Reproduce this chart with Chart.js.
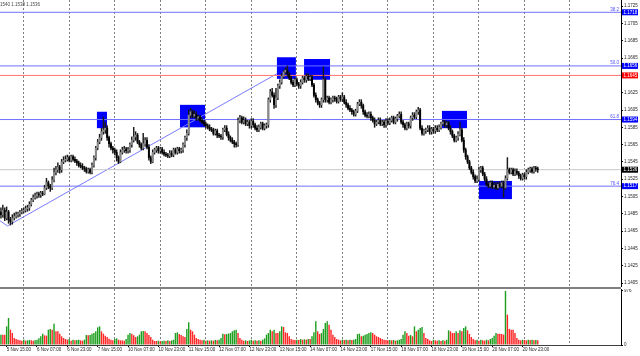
<!DOCTYPE html>
<html>
<head>
<meta charset="utf-8">
<script src="https://cdn.jsdelivr.net/npm/chart.js@4.4.0/dist/chart.umd.min.js"></script>
<style>
  html, body { margin: 0; padding: 0; background: #fff; }
  #wrap { position: relative; width: 640px; height: 356px; overflow: hidden; }
  #price { position: absolute; left: 0; top: 0; }
  #sep { position: absolute; left: 0; top: 287px; width: 621px; height: 2px; background: #808080; }
  #vol { position: absolute; left: 0; top: 289px; }
</style>
</head>
<body>
<div id="wrap">
  <canvas id="price" width="640" height="287"></canvas>
  <div id="sep"></div>
  <canvas id="vol" width="640" height="67"></canvas>
</div>
<script>
// H1 bars (bar 0 = 5 Nov 12:00)
const firstOpen = 1.1487;
const closes = [
  1.1484, 1.1489, 1.1480, 1.1487, 1.1478, 1.1476, 1.1480, 1.1482, 1.1484, 1.1485, 1.1487, 1.1488,
  1.1489, 1.1491, 1.1492, 1.1496, 1.1501, 1.1504, 1.1506, 1.1508, 1.1507, 1.1509, 1.1508, 1.1515,
  1.1521, 1.1517, 1.1515, 1.1524, 1.1533, 1.1536, 1.1539, 1.1536, 1.1545, 1.1547, 1.1548, 1.1550,
  1.1547, 1.1551, 1.1548, 1.1546, 1.1544, 1.1541, 1.1540, 1.1538, 1.1537, 1.1534, 1.1536, 1.1533,
  1.1541, 1.1550, 1.1561, 1.1568, 1.1573, 1.1580, 1.1582, 1.1584, 1.1573, 1.1566, 1.1561, 1.1559,
  1.1556, 1.1550, 1.1545, 1.1556, 1.1559, 1.1560, 1.1558, 1.1559, 1.1565, 1.1570, 1.1574, 1.1576,
  1.1568, 1.1565, 1.1561, 1.1566, 1.1570, 1.1562, 1.1550, 1.1545, 1.1556, 1.1559, 1.1561, 1.1558,
  1.1560, 1.1556, 1.1554, 1.1553, 1.1552, 1.1555, 1.1553, 1.1559, 1.1556, 1.1560, 1.1558, 1.1559,
  1.1565, 1.1573, 1.1578, 1.1599, 1.1603, 1.1598, 1.1600, 1.1596, 1.1597, 1.1593, 1.1591, 1.1589,
  1.1587, 1.1585, 1.1583, 1.1582, 1.1578, 1.1581, 1.1576, 1.1575, 1.1574, 1.1582, 1.1584, 1.1577,
  1.1573, 1.1570, 1.1568, 1.1566, 1.1565, 1.1593, 1.1596, 1.1591, 1.1593, 1.1589, 1.1591, 1.1587,
  1.1592, 1.1588, 1.1584, 1.1582, 1.1585, 1.1589, 1.1584, 1.1587, 1.1588, 1.1617, 1.1626, 1.1622,
  1.1611, 1.1619, 1.1633, 1.1637, 1.1644, 1.1649, 1.1651, 1.1647, 1.1642, 1.1637, 1.1634, 1.1640,
  1.1635, 1.1633, 1.1637, 1.1642, 1.1640, 1.1644, 1.1641, 1.1643, 1.1634, 1.1622, 1.1617, 1.1613,
  1.1611, 1.1617, 1.1640, 1.1617, 1.1619, 1.1614, 1.1617, 1.1619, 1.1618, 1.1615, 1.1620, 1.1618,
  1.1620, 1.1614, 1.1611, 1.1607, 1.1605, 1.1603, 1.1600, 1.1604, 1.1612, 1.1614, 1.1610, 1.1603,
  1.1599, 1.1598, 1.1600, 1.1596, 1.1593, 1.1589, 1.1591, 1.1593, 1.1589, 1.1591, 1.1588, 1.1592,
  1.1590, 1.1593, 1.1596, 1.1591, 1.1595, 1.1598, 1.1600, 1.1591, 1.1588, 1.1584, 1.1589, 1.1587,
  1.1596, 1.1599, 1.1597, 1.1603, 1.1605, 1.1584, 1.1578, 1.1581, 1.1582, 1.1584, 1.1580, 1.1583,
  1.1581, 1.1584, 1.1582, 1.1585, 1.1589, 1.1591, 1.1588, 1.1590, 1.1584, 1.1580, 1.1575, 1.1570,
  1.1573, 1.1577, 1.1582, 1.1570, 1.1559, 1.1551, 1.1545, 1.1538, 1.1533, 1.1528, 1.1523, 1.1525,
  1.1536, 1.1538, 1.1531, 1.1525, 1.1519, 1.1517, 1.1521, 1.1516, 1.1518, 1.1515, 1.1519, 1.1517,
  1.1521, 1.1515, 1.1526, 1.1536, 1.1533, 1.1536, 1.1531, 1.1534, 1.1532, 1.1529, 1.1526, 1.1530,
  1.1528, 1.1533, 1.1536, 1.1537, 1.1534, 1.1538, 1.1537, 1.1536
];
const highs = [
  1.1492, 1.1495, 1.1492, 1.1493, 1.1489, 1.1481, 1.1484, 1.1486, 1.1487, 1.1487, 1.1489, 1.1491,
  1.1492, 1.1494, 1.1495, 1.1499, 1.1503, 1.1507, 1.1509, 1.1510, 1.1510, 1.1511, 1.1511, 1.1518,
  1.1526, 1.1523, 1.1519, 1.1528, 1.1538, 1.1540, 1.1544, 1.1541, 1.1548, 1.1551, 1.1552, 1.1553,
  1.1552, 1.1553, 1.1553, 1.1551, 1.1548, 1.1546, 1.1544, 1.1543, 1.1540, 1.1539, 1.1538, 1.1538,
  1.1544, 1.1552, 1.1563, 1.1571, 1.1577, 1.1584, 1.1597, 1.1591, 1.1587, 1.1575, 1.1568, 1.1563,
  1.1561, 1.1559, 1.1552, 1.1559, 1.1562, 1.1563, 1.1562, 1.1562, 1.1567, 1.1574, 1.1585, 1.1580,
  1.1578, 1.1570, 1.1567, 1.1578, 1.1573, 1.1573, 1.1565, 1.1552, 1.1559, 1.1561, 1.1563, 1.1563,
  1.1562, 1.1562, 1.1559, 1.1556, 1.1555, 1.1558, 1.1558, 1.1561, 1.1561, 1.1562, 1.1562, 1.1561,
  1.1567, 1.1575, 1.1582, 1.1605, 1.1607, 1.1605, 1.1604, 1.1603, 1.1599, 1.1599, 1.1596, 1.1593,
  1.1591, 1.1589, 1.1588, 1.1585, 1.1584, 1.1583, 1.1583, 1.1578, 1.1577, 1.1584, 1.1587, 1.1587,
  1.1580, 1.1575, 1.1573, 1.1570, 1.1568, 1.1596, 1.1599, 1.1598, 1.1597, 1.1596, 1.1593, 1.1593,
  1.1595, 1.1595, 1.1590, 1.1587, 1.1588, 1.1591, 1.1591, 1.1589, 1.1590, 1.1619, 1.1629, 1.1630,
  1.1625, 1.1630, 1.1635, 1.1640, 1.1647, 1.1651, 1.1654, 1.1656, 1.1649, 1.1644, 1.1640, 1.1642,
  1.1642, 1.1637, 1.1640, 1.1644, 1.1644, 1.1647, 1.1647, 1.1645, 1.1645, 1.1636, 1.1625, 1.1619,
  1.1615, 1.1619, 1.1655, 1.1642, 1.1621, 1.1621, 1.1619, 1.1621, 1.1621, 1.1620, 1.1622, 1.1622,
  1.1625, 1.1622, 1.1617, 1.1613, 1.1610, 1.1607, 1.1605, 1.1606, 1.1614, 1.1617, 1.1617, 1.1612,
  1.1605, 1.1602, 1.1603, 1.1603, 1.1598, 1.1596, 1.1593, 1.1596, 1.1596, 1.1593, 1.1593, 1.1595,
  1.1595, 1.1596, 1.1598, 1.1598, 1.1597, 1.1600, 1.1603, 1.1603, 1.1593, 1.1590, 1.1591, 1.1591,
  1.1598, 1.1602, 1.1602, 1.1605, 1.1608, 1.1607, 1.1587, 1.1583, 1.1584, 1.1587, 1.1587, 1.1585,
  1.1585, 1.1587, 1.1587, 1.1588, 1.1591, 1.1593, 1.1593, 1.1592, 1.1592, 1.1587, 1.1582, 1.1577,
  1.1575, 1.1580, 1.1591, 1.1584, 1.1573, 1.1561, 1.1553, 1.1547, 1.1540, 1.1536, 1.1530, 1.1529,
  1.1539, 1.1540, 1.1540, 1.1533, 1.1528, 1.1522, 1.1523, 1.1523, 1.1521, 1.1521, 1.1522, 1.1522,
  1.1523, 1.1523, 1.1529, 1.1550, 1.1538, 1.1538, 1.1538, 1.1537, 1.1537, 1.1534, 1.1531, 1.1532,
  1.1532, 1.1536, 1.1538, 1.1539, 1.1539, 1.1540, 1.1540, 1.1539
];
const lows = [
  1.1480, 1.1481, 1.1477, 1.1478, 1.1474, 1.1472, 1.1473, 1.1478, 1.1480, 1.1481, 1.1482, 1.1485,
  1.1486, 1.1487, 1.1488, 1.1489, 1.1494, 1.1499, 1.1502, 1.1503, 1.1504, 1.1504, 1.1506, 1.1507,
  1.1513, 1.1514, 1.1511, 1.1513, 1.1522, 1.1530, 1.1533, 1.1532, 1.1533, 1.1543, 1.1545, 1.1546,
  1.1545, 1.1545, 1.1546, 1.1544, 1.1541, 1.1539, 1.1538, 1.1536, 1.1534, 1.1532, 1.1532, 1.1531,
  1.1531, 1.1539, 1.1547, 1.1559, 1.1566, 1.1570, 1.1577, 1.1578, 1.1570, 1.1562, 1.1559, 1.1555,
  1.1553, 1.1546, 1.1543, 1.1544, 1.1554, 1.1556, 1.1555, 1.1555, 1.1556, 1.1562, 1.1568, 1.1570,
  1.1566, 1.1562, 1.1559, 1.1559, 1.1563, 1.1560, 1.1547, 1.1543, 1.1544, 1.1554, 1.1556, 1.1555,
  1.1555, 1.1554, 1.1552, 1.1551, 1.1550, 1.1550, 1.1551, 1.1551, 1.1554, 1.1554, 1.1555, 1.1555,
  1.1556, 1.1562, 1.1570, 1.1576, 1.1596, 1.1596, 1.1596, 1.1593, 1.1593, 1.1591, 1.1589, 1.1587,
  1.1584, 1.1583, 1.1581, 1.1580, 1.1576, 1.1576, 1.1573, 1.1573, 1.1571, 1.1571, 1.1580, 1.1575,
  1.1570, 1.1568, 1.1566, 1.1562, 1.1562, 1.1563, 1.1590, 1.1589, 1.1589, 1.1587, 1.1587, 1.1584,
  1.1584, 1.1585, 1.1582, 1.1580, 1.1580, 1.1583, 1.1582, 1.1582, 1.1584, 1.1585, 1.1614, 1.1620,
  1.1607, 1.1608, 1.1617, 1.1630, 1.1635, 1.1642, 1.1647, 1.1644, 1.1640, 1.1635, 1.1632, 1.1632,
  1.1633, 1.1630, 1.1630, 1.1635, 1.1637, 1.1637, 1.1639, 1.1639, 1.1632, 1.1620, 1.1614, 1.1611,
  1.1608, 1.1608, 1.1614, 1.1614, 1.1614, 1.1612, 1.1612, 1.1614, 1.1615, 1.1613, 1.1613, 1.1615,
  1.1615, 1.1612, 1.1608, 1.1605, 1.1603, 1.1600, 1.1598, 1.1598, 1.1602, 1.1610, 1.1607, 1.1600,
  1.1597, 1.1596, 1.1596, 1.1593, 1.1591, 1.1585, 1.1587, 1.1589, 1.1587, 1.1587, 1.1585, 1.1585,
  1.1588, 1.1588, 1.1591, 1.1589, 1.1589, 1.1592, 1.1596, 1.1589, 1.1585, 1.1582, 1.1582, 1.1584,
  1.1584, 1.1593, 1.1595, 1.1595, 1.1600, 1.1582, 1.1576, 1.1576, 1.1578, 1.1580, 1.1577, 1.1577,
  1.1578, 1.1578, 1.1580, 1.1580, 1.1583, 1.1587, 1.1585, 1.1585, 1.1582, 1.1577, 1.1573, 1.1568,
  1.1568, 1.1570, 1.1575, 1.1568, 1.1556, 1.1548, 1.1543, 1.1536, 1.1531, 1.1525, 1.1521, 1.1521,
  1.1523, 1.1533, 1.1529, 1.1523, 1.1517, 1.1515, 1.1515, 1.1514, 1.1514, 1.1513, 1.1513, 1.1515,
  1.1515, 1.1504, 1.1513, 1.1524, 1.1531, 1.1531, 1.1529, 1.1529, 1.1530, 1.1526, 1.1524, 1.1524,
  1.1525, 1.1525, 1.1531, 1.1533, 1.1532, 1.1532, 1.1534, 1.1533
];
const volumes = [
  187, 187, 187, 337, 488, 277, 217, 126, 108, 96, 84, 78,
  96, 78, 84, 90, 84, 78, 84, 96, 120, 157, 205, 175,
  169, 277, 289, 277, 385, 247, 247, 205, 157, 126, 108, 96,
  108, 78, 96, 84, 90, 96, 84, 78, 96, 181, 175, 181,
  205, 217, 247, 319, 337, 247, 205, 169, 144, 114, 96, 84,
  108, 120, 96, 84, 84, 78, 108, 187, 217, 205, 175, 144,
  157, 187, 247, 253, 247, 217, 181, 144, 96, 72, 72, 78,
  66, 72, 78, 72, 84, 72, 84, 96, 217, 229, 199, 181,
  157, 144, 289, 409, 277, 247, 187, 126, 108, 96, 84, 96,
  78, 84, 78, 84, 78, 90, 84, 96, 126, 205, 193, 199,
  205, 217, 247, 265, 277, 217, 126, 96, 78, 84, 72, 84,
  96, 78, 84, 78, 84, 78, 96, 120, 187, 217, 277, 247,
  277, 217, 217, 247, 337, 325, 229, 217, 157, 108, 96, 90,
  96, 90, 108, 96, 102, 96, 108, 108, 157, 229, 427, 247,
  199, 217, 289, 397, 427, 367, 277, 187, 144, 108, 96, 84,
  96, 90, 96, 84, 96, 90, 96, 108, 199, 205, 157, 169,
  187, 199, 217, 229, 217, 187, 157, 144, 126, 108, 96, 90,
  84, 90, 84, 90, 78, 84, 96, 108, 187, 247, 217, 169,
  181, 157, 337, 247, 277, 307, 325, 217, 126, 108, 84, 72,
  96, 84, 78, 84, 72, 84, 78, 96, 265, 247, 217, 217,
  247, 217, 265, 247, 307, 337, 265, 199, 144, 108, 84, 96,
  78, 96, 84, 78, 96, 84, 108, 126, 169, 217, 205, 205,
  199, 187, 976, 548, 289, 277, 277, 217, 126, 96, 84, 96,
  90, 84, 96, 90, 96, 84, 90, 84
];

const timeLabels = [
  "5 Nov 15:00", "6 Nov 07:00", "6 Nov 23:00", "7 Nov 15:00", "10 Nov 07:00", "10 Nov 23:00",
  "11 Nov 15:00", "12 Nov 07:00", "12 Nov 23:00", "13 Nov 15:00", "14 Nov 07:00", "14 Nov 23:00",
  "17 Nov 15:00", "18 Nov 07:00", "18 Nov 23:00", "19 Nov 15:00", "20 Nov 07:00", "20 Nov 23:00"
];
const priceTicks = [
  1.1405, 1.1425, 1.1445, 1.1465, 1.1485, 1.1505, 1.1525, 1.1545, 1.1565,
  1.1585, 1.1605, 1.1625, 1.1645, 1.1665, 1.1685, 1.1705, 1.1725
];
const volumeTicks = [0, 976];

// fibonacci grid + other horizontal levels
const fibNames = ["38.2", "50.0", "61.8", "76.4"];
const fibPrices = [1.1718, 1.1656, 1.1594, 1.1517];
const redLevel = 1.1645;
const lastPrice = 1.1536;

// trend lines [bar, price]
const trendMain = [[3.45, 1.1471], [145.5, 1.1647]];
const trendLeft = [[-0.5, 1.1477], [3.45, 1.1471]];

// blue zones
const zoneStart = [50.6, 94.4, 145.5, 159.8, 232.5, 252.0];
const zoneEnd = [55.9, 107.6, 155.5, 173.5, 245.7, 269.4];
const zoneHigh = [1.1603, 1.1611, 1.1666, 1.1664, 1.1604, 1.1523];
const zoneLow = [1.1584, 1.1585, 1.1641, 1.1640, 1.1584, 1.1502];

const headerText = "1540 1.1538 1.1536";

// layout
const xMin = -0.5, xMax = 326.9;
const axisW = 19;
const yMin = 1.14004, yMax = 1.17322;
const volMax = 1012;
const fontSmall = 4.5;
const labelBars = timeLabels.map((t, k) => 3 + k * 16);
const gridBars = [];
for (let b = 12; b <= 300; b += 24) gridBars.push(b);
const volTicksX = [...new Set([...labelBars, ...gridBars])].sort((a, b) => a - b);

Chart.defaults.font.family = '"Liberation Sans", Arial, sans-serif';
Chart.defaults.font.size = fontSmall;
Chart.defaults.color = "#000";

const opens = closes.map((c, i) => (i === 0 ? firstOpen : closes[i - 1]));
const wickData = closes.map((c, i) => ({ x: i, y: [lows[i], highs[i]] }));
const bodyData = closes.map((c, i) => ({ x: i, y: [opens[i], c] }));
const bodyColors = closes.map((c, i) => (c >= opens[i] ? "#8a8a8a" : "#000000"));

function hLine(price, color) {
  return {
    type: "line",
    data: [{ x: xMin, y: price }, { x: xMax, y: price }],
    borderColor: color,
    borderWidth: 1,
    pointRadius: 0,
    order: 5,
  };
}
function segLine(pts, color) {
  return {
    type: "line",
    data: pts.map((p) => ({ x: p[0], y: p[1] })),
    borderColor: color,
    borderWidth: 1,
    pointRadius: 0,
    order: 5,
  };
}

const priceSets = [
  hLine(lastPrice, "#c8c8c8"),
  hLine(redLevel, "#ff7373"),
  ...fibPrices.map((p) => hLine(p, "#7070ff")),
  segLine(trendMain, "#7a7aff"),
  segLine(trendLeft, "#7a7aff"),
];
priceSets.push({
  type: "bar",
  data: wickData,
  backgroundColor: "#1a1a1a",
  barThickness: 0.8,
  grouped: false,
  order: 2,
});
priceSets.push({
  type: "bar",
  data: bodyData,
  backgroundColor: bodyColors,
  borderWidth: 0,
  barThickness: 1.3,
  grouped: false,
  order: 1,
});

const tagPrices = [fibPrices[0], fibPrices[1], redLevel, fibPrices[2], lastPrice, fibPrices[3]];
const tagColors = ["#0000ff", "#0000ff", "#ff0000", "#0000ff", "#000000", "#0000ff"];

const overlay = {
  id: "overlay",
  beforeDatasetsDraw(chart) {
    const { ctx, scales: { x, y } } = chart;
    ctx.save();
    ctx.fillStyle = "#0000ff";
    zoneStart.forEach((s, i) => {
      const x1 = x.getPixelForValue(s);
      const x2 = x.getPixelForValue(zoneEnd[i]);
      const y1 = y.getPixelForValue(zoneHigh[i]);
      const y2 = y.getPixelForValue(zoneLow[i]);
      ctx.fillRect(x1, y1, x2 - x1, y2 - y1);
    });
    ctx.restore();
  },
  afterDraw(chart) {
    const { ctx, chartArea, scales: { y } } = chart;
    ctx.save();
    ctx.font = fontSmall + 'px "Liberation Sans", Arial, sans-serif';
    // fib level names
    ctx.fillStyle = "#5050ff";
    ctx.textAlign = "right";
    ctx.textBaseline = "bottom";
    fibPrices.forEach((p, i) => {
      ctx.fillText(fibNames[i], chartArea.right - 2, y.getPixelForValue(p) - 0.5);
    });
    // price tags on the axis
    ctx.textAlign = "left";
    ctx.textBaseline = "middle";
    tagPrices.forEach((p, i) => {
      const py = y.getPixelForValue(p);
      ctx.fillStyle = tagColors[i];
      ctx.fillRect(chartArea.right + 1, py - 3, 16, 6);
      ctx.fillStyle = "#fff";
      ctx.fillText(p.toFixed(4), chartArea.right + 2.5, py);
    });
    // header
    ctx.fillStyle = "#444";
    ctx.fillText(headerText, 0, 5);
    ctx.restore();
  },
};

function zeroPad(s) {
  s.paddingTop = 0;
  s.paddingBottom = 0;
  s.paddingLeft = 0;
  s.paddingRight = 0;
}

new Chart(document.getElementById("price"), {
  type: "bar",
  data: { datasets: priceSets },
  options: {
    responsive: false,
    animation: false,
    events: [],
    layout: { padding: 0, autoPadding: false },
    plugins: { legend: { display: false }, tooltip: { enabled: false } },
    scales: {
      x: {
        type: "linear",
        min: xMin,
        max: xMax,
        offset: false,
        afterBuildTicks: (s) => { s.ticks = gridBars.map((v) => ({ value: v })); },
        afterFit: (s) => { s.height = 0; zeroPad(s); },
        ticks: { display: false },
        grid: { offset: false, drawTicks: false, color: "#808080", lineWidth: 1 },
        border: { display: false, dash: [2, 2] },
      },
      y: {
        position: "right",
        min: yMin,
        max: yMax,
        afterBuildTicks: (s) => { s.ticks = priceTicks.map((v) => ({ value: v })); },
        afterFit: (s) => { s.width = axisW; zeroPad(s); },
        ticks: { padding: 1, autoSkip: false, color: "#222", callback: (v) => Number(v).toFixed(4) },
        grid: { drawOnChartArea: false, tickLength: 2, tickColor: "#000" },
        border: { color: "#000", width: 1 },
      },
    },
  },
  plugins: [overlay],
});

const volColors = volumes.map((v, i) => (i === 0 || v > volumes[i - 1] ? "#1e9e1e" : "#ff2626"));

new Chart(document.getElementById("vol"), {
  type: "bar",
  data: {
    datasets: [{
      data: volumes.map((v, i) => ({ x: i, y: v })),
      backgroundColor: volColors,
      barPercentage: 0.75,
      categoryPercentage: 1,
    }],
  },
  options: {
    responsive: false,
    animation: false,
    events: [],
    layout: { padding: 0, autoPadding: false },
    plugins: { legend: { display: false }, tooltip: { enabled: false } },
    scales: {
      x: {
        type: "linear",
        min: xMin,
        max: xMax,
        offset: false,
        afterBuildTicks: (s) => { s.ticks = volTicksX.map((v) => ({ value: v })); },
        afterFit: (s) => { s.height = 11; zeroPad(s); },
        ticks: {
          autoSkip: false,
          maxRotation: 0,
          minRotation: 0,
          align: "start",
          padding: 0,
          color: "#222",
          callback: (v) => {
            const k = labelBars.indexOf(v);
            return k >= 0 ? timeLabels[k] : "";
          },
        },
        grid: {
          offset: false,
          color: (c) => (c.tick && gridBars.includes(c.tick.value) ? "#808080" : "rgba(0,0,0,0)"),
          tickColor: (c) => (c.tick && labelBars.includes(c.tick.value) ? "#000" : "rgba(0,0,0,0)"),
          tickLength: 2,
          tickBorderDash: [],
        },
        border: { color: "#404040", width: 1, dash: [2, 2] },
      },
      y: {
        position: "right",
        min: 0,
        max: volMax,
        afterBuildTicks: (s) => { s.ticks = volumeTicks.map((v) => ({ value: v })); },
        afterFit: (s) => { s.width = axisW; zeroPad(s); },
        ticks: { padding: 1, autoSkip: false, color: "#222", callback: (v) => String(v) },
        grid: { drawOnChartArea: false, tickLength: 2, tickColor: "#000" },
        border: { color: "#000", width: 1 },
      },
    },
  },
});
</script>
</body>
</html>
